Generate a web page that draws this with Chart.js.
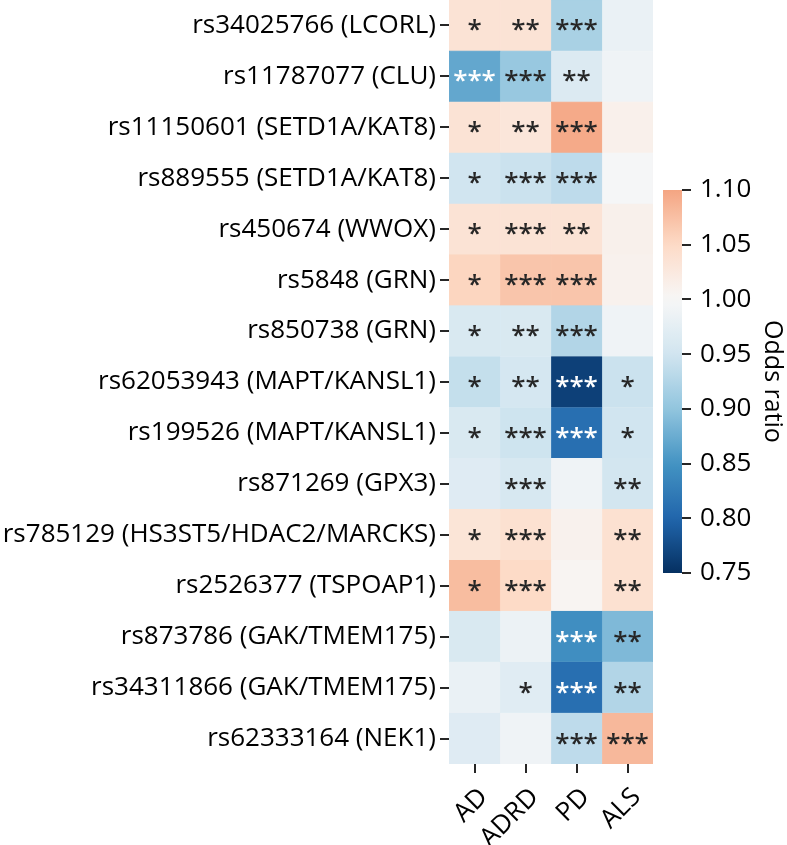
<!DOCTYPE html>
<html>
<head>
<meta charset="utf-8">
<script src="https://cdn.jsdelivr.net/npm/chart.js@4"></script>
<style>
  html, body { margin: 0; padding: 0; background: #fff; }
  #wrap { position: relative; width: 787px; height: 845px; }
  #wrap canvas { position: absolute; left: 0; top: 0; }
</style>
</head>
<body>
<div id="wrap">
  <canvas id="heat" width="787" height="845"></canvas>
  <canvas id="cbar" width="787" height="845"></canvas>
</div>
<script>
// rows (top to bottom)
const snps = [
  'rs34025766 (LCORL)',
  'rs11787077 (CLU)',
  'rs11150601 (SETD1A/KAT8)',
  'rs889555 (SETD1A/KAT8)',
  'rs450674 (WWOX)',
  'rs5848 (GRN)',
  'rs850738 (GRN)',
  'rs62053943 (MAPT/KANSL1)',
  'rs199526 (MAPT/KANSL1)',
  'rs871269 (GPX3)',
  'rs785129 (HS3ST5/HDAC2/MARCKS)',
  'rs2526377 (TSPOAP1)',
  'rs873786 (GAK/TMEM175)',
  'rs34311866 (GAK/TMEM175)',
  'rs62333164 (NEK1)'
];
const diseases = ['AD', 'ADRD', 'PD', 'ALS'];

// odds ratios per column
const orAD   = [1.035, 0.870, 1.035, 0.950, 1.035, 1.055, 0.960, 0.940, 0.960, 0.968, 1.033, 1.078, 0.960, 0.983, 0.968];
const orADRD = [1.035, 0.905, 1.030, 0.945, 1.035, 1.070, 0.960, 0.955, 0.948, 0.958, 1.040, 1.050, 0.985, 0.970, 0.990];
const orPD   = [0.918, 0.965, 1.095, 0.935, 1.035, 1.070, 0.925, 0.765, 0.810, 0.990, 1.010, 1.005, 0.845, 0.810, 0.935];
const orALS  = [0.983, 0.990, 1.013, 0.997, 1.012, 1.010, 0.990, 0.945, 0.950, 0.952, 1.040, 1.040, 0.888, 0.925, 1.082];

// significance stars per column
const sigAD   = ['*', '***', '*', '*', '*', '*', '*', '*', '*', '', '*', '*', '', '', ''];
const sigADRD = ['**', '***', '**', '***', '***', '***', '**', '**', '***', '***', '***', '***', '', '*', ''];
const sigPD   = ['***', '**', '***', '***', '**', '***', '***', '***', '***', '', '', '', '***', '***', '***'];
const sigALS  = ['', '', '', '', '', '', '', '*', '*', '**', '**', '**', '**', '**', '***'];

// colour bar ticks
const cbTicks = [0.75, 0.80, 0.85, 0.90, 0.95, 1.00, 1.05, 1.10];
const cbMin = 0.75, cbMax = 1.10;

const orCols = [orAD, orADRD, orPD, orALS];
const sigCols = [sigAD, sigADRD, sigPD, sigALS];

const FONT = "'Open Sans', 'Noto Sans', sans-serif";
const INK = '#262626';

// RdBu_r, centred on 1 (seaborn style: range 0.75..1.25)
const rdbu = ['#053061', '#2166ac', '#4393c3', '#92c5de', '#d1e5f0', '#f7f7f7',
              '#fddbc7', '#f4a582', '#d6604d', '#b2182b', '#67001f'];
function hexRgb(h) {
    return [parseInt(h.slice(1, 3), 16), parseInt(h.slice(3, 5), 16), parseInt(h.slice(5, 7), 16)];
}
function cmapRgb(v) {
    let t = 0.5 + (v - 1) / 0.5;
    t = Math.max(0, Math.min(1, t)) * 10;
    const i = Math.min(9, Math.floor(t));
    const f = t - i;
    const a = hexRgb(rdbu[i]), b = hexRgb(rdbu[i + 1]);
    return a.map((c, k) => Math.round(c + (b[k] - c) * f));
}
function cmap(v) {
    const c = cmapRgb(v);
    return 'rgb(' + c.join(',') + ')';
}
function textColorFor(v) {
    const lin = cmapRgb(v).map(c => {
        c = c / 255;
        return c <= 0.03928 ? c / 12.92 : Math.pow((c + 0.055) / 1.055, 2.4);
    });
    const lum = 0.2126 * lin[0] + 0.7152 * lin[1] + 0.0722 * lin[2];
    return lum > 0.408 ? INK : '#ffffff';
}

// stars drawn in the middle of every cell
const starPlugin = {
    id: 'cellStars',
    afterDatasetsDraw(chart) {
        const ctx = chart.ctx;
        const xs = chart.scales.x, ys = chart.scales.y;
        ctx.save();
        ctx.font = '600 26px ' + FONT;
        ctx.textAlign = 'center';
        ctx.textBaseline = 'alphabetic';
        const m = ctx.measureText('*');
        const dy = (m.actualBoundingBoxAscent - m.actualBoundingBoxDescent) / 2;
        sigCols.forEach((col, j) => {
            col.forEach((s, i) => {
                if (!s) return;
                ctx.fillStyle = textColorFor(orCols[j][i]);
                ctx.fillText(s, xs.getPixelForValue(j + 0.5), ys.getPixelForValue(i) + dy);
            });
        });
        ctx.restore();
    }
};

// heat map: one floating horizontal bar per cell
new Chart(document.getElementById('heat'), {
    type: 'bar',
    data: {
        labels: snps,
        datasets: diseases.map((d, j) => ({
            label: d,
            data: snps.map(() => [j, j + 1]),
            backgroundColor: orCols[j].map(cmap),
            borderColor: orCols[j].map(cmap),
            borderWidth: 0.6,
            borderSkipped: false,
            barPercentage: 1,
            categoryPercentage: 1,
            grouped: false
        }))
    },
    options: {
        indexAxis: 'y',
        responsive: false,
        animation: false,
        layout: { padding: { left: 0, right: 134, top: 0, bottom: 0 } },
        plugins: { legend: { display: false }, tooltip: { enabled: false } },
        scales: {
            y: {
                type: 'category',
                offset: true,
                border: { display: false },
                grid: { offset: false, drawOnChartArea: false, tickLength: 9, color: INK, lineWidth: 2 },
                ticks: { autoSkip: false, color: '#000', padding: 4, font: { family: FONT, size: 26 } },
                afterFit(scale) {
                    scale.width = 449;
                    scale.paddingTop = 0;
                    scale.paddingBottom = 0;
                }
            },
            x: {
                type: 'linear',
                min: 0,
                max: 4,
                border: { display: false },
                grid: { drawOnChartArea: false, tickLength: 9, color: INK, lineWidth: 2 },
                afterBuildTicks(axis) { axis.ticks = diseases.map((d, j) => ({ value: j + 0.5 })); },
                ticks: {
                    color: '#000',
                    minRotation: 45,
                    maxRotation: 45,
                    padding: 9,
                    labelOffset: 9,
                    font: { family: FONT, size: 26 },
                    callback: (v) => diseases[Math.round(v - 0.5)]
                },
                afterFit(scale) {
                    scale.height = 81;
                    scale.paddingLeft = 0;
                    scale.paddingRight = 0;
                }
            }
        }
    },
    plugins: [starPlugin]
});

// colour bar
function barGradient(context) {
    const chart = context.chart;
    const y = chart.scales.y;
    if (!chart.chartArea || !y) return cmap(1);
    const g = chart.ctx.createLinearGradient(0, y.getPixelForValue(cbMin), 0, y.getPixelForValue(cbMax));
    const n = 40;
    for (let k = 0; k <= n; k++) {
        g.addColorStop(k / n, cmap(cbMin + (cbMax - cbMin) * k / n));
    }
    return g;
}

new Chart(document.getElementById('cbar'), {
    type: 'bar',
    data: {
        labels: ['Odds ratio'],
        datasets: [{
            data: [[cbMin, cbMax]],
            backgroundColor: barGradient,
            borderWidth: 0,
            barPercentage: 1,
            categoryPercentage: 1
        }]
    },
    options: {
        responsive: false,
        animation: false,
        layout: { padding: { left: 663, right: 0, top: 190, bottom: 272 } },
        plugins: { legend: { display: false }, tooltip: { enabled: false } },
        scales: {
            x: { display: false },
            y: {
                position: 'right',
                min: cbMin,
                max: cbMax,
                border: { display: false },
                grid: { drawOnChartArea: false, tickLength: 9, color: INK, lineWidth: 2 },
                afterBuildTicks(axis) { axis.ticks = cbTicks.map(v => ({ value: v })); },
                ticks: {
                    color: '#000',
                    padding: 9,
                    font: { family: FONT, size: 26 },
                    callback: (v) => v.toFixed(2)
                },
                title: {
                    display: true,
                    text: 'Odds ratio',
                    color: '#000',
                    padding: { top: 0, bottom: 0 },
                    font: { family: FONT, size: 25 }
                },
                afterFit(scale) { scale.width = 105; }
            }
        }
    }
});
</script>
</body>
</html>
